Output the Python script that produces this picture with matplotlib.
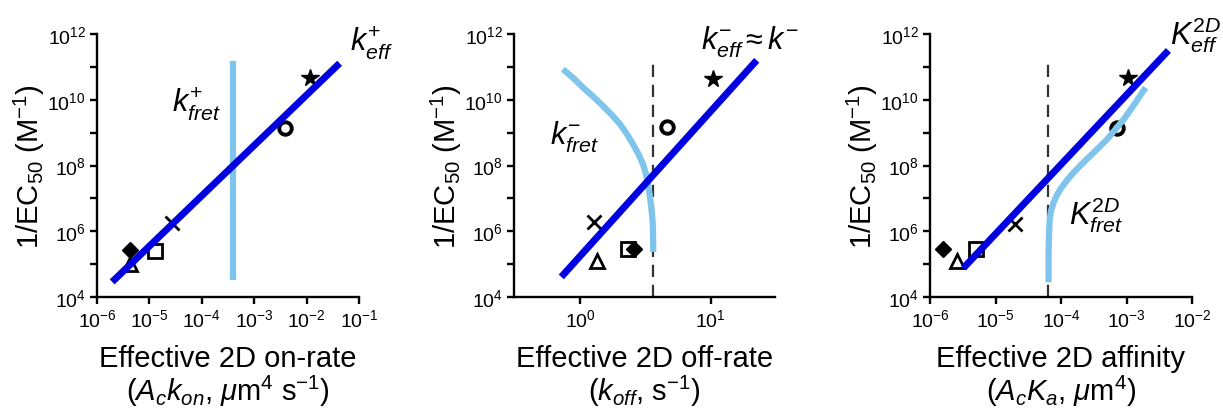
import numpy as np
import matplotlib
matplotlib.use("Agg")
import matplotlib.pyplot as plt
from matplotlib.ticker import FixedLocator, FuncFormatter, NullLocator

plt.rcParams['font.family'] = ['Liberation Sans', 'DejaVu Sans']
plt.rcParams['mathtext.fontset'] = 'custom'
plt.rcParams['mathtext.rm'] = 'Liberation Sans'
plt.rcParams['mathtext.it'] = 'Liberation Sans:italic'
plt.rcParams['mathtext.bf'] = 'Liberation Sans:bold'

# ---------------- data ----------------
# marker order: star, circle, cross, square, diamond, triangle
marker_styles = ['*', 'o', 'x', 's', 'D', '^']

onrate_x = [10**-1.94, 10**-2.42, 10**-4.57, 10**-4.90, 10**-5.37, 10**-5.37]
onrate_y = [10**10.66, 10**9.14, 10**6.25, 10**5.40, 10**5.42, 10**5.00]
onrate_fit_x = [10**-5.71, 10**-1.37]
onrate_fit_y = [10**4.46, 10**11.11]
onrate_fret_x = [10**-3.41, 10**-3.41]
onrate_fret_y = [10**4.52, 10**11.17]

offrate_x = [10.4, 4.6, 1.28, 2.32, 2.58, 1.35]
offrate_y = [10**10.63, 10**9.17, 10**6.28, 10**5.46, 10**5.46, 10**5.09]
offrate_fit_x = [0.72, 22.4]
offrate_fit_y = [10**4.61, 10**11.2]
offrate_fret_x = [0.741, 0.89, 1.05, 1.26, 1.50, 1.75, 2.02, 2.28, 2.54,
                  2.80, 3.03, 3.19, 3.30, 3.40, 3.48, 3.56, 3.61, 3.63]
offrate_fret_y = [10**10.93, 10**10.66, 10**10.38, 10**10.10, 10**9.81,
                  10**9.54, 10**9.26, 10**8.96, 10**8.65, 10**8.35,
                  10**8.04, 10**7.74, 10**7.44, 10**7.14, 10**6.83,
                  10**6.48, 10**6.13, 10**5.37]
offrate_dash_x = 3.6

affinity_x = [10**-2.97, 10**-3.14, 10**-4.70, 10**-5.30, 10**-5.80, 10**-5.59]
affinity_y = [10**10.66, 10**9.14, 10**6.22, 10**5.46, 10**5.46, 10**5.09]
affinity_fit_x = [10**-5.49, 10**-2.36]
affinity_fit_y = [10**4.88, 10**11.5]
affinity_fret_x = [10**-4.19, 10**-4.19, 10**-4.185, 10**-4.173, 10**-4.150,
                   10**-4.112, 10**-4.065, 10**-4.009, 10**-3.91, 10**-3.806,
                   10**-3.68, 10**-3.55, 10**-3.42, 10**-3.294, 10**-3.17,
                   10**-3.04, 10**-2.87, 10**-2.708]
affinity_fret_y = [10**4.45, 10**5.30, 10**5.76, 10**6.37, 10**6.64,
                   10**6.88, 10**7.09, 10**7.28, 10**7.55, 10**7.79,
                   10**8.05, 10**8.30, 10**8.55, 10**8.80, 10**9.10,
                   10**9.41, 10**9.89, 10**10.37]
affinity_dash_x = 10**-4.2

y_ticks = [10.0**e for e in range(4, 13)]
x_ticks_on = [10.0**e for e in range(-6, 0)]
x_ticks_off = [1.0, 10.0]
x_ticks_aff = [10.0**e for e in range(-6, -1)]

xlabels = ["Effective 2D on-rate\n($A_ck_{on}$, $\\mu$m$^4$ s$^{-1}$)",
           "Effective 2D off-rate\n($k_{off}$, s$^{-1}$)",
           "Effective 2D affinity\n($A_cK_a$, $\\mu$m$^4$)"]
ylabel = "1/EC$_{50}$ (M$^{-1}$)"

# ---------------- style ----------------
BLUE = '#0000E0'
LBLUE = '#7FC4EC'

W, H = 1223, 414
fig = plt.figure(figsize=(W / 100, H / 100), dpi=100)

def fx(px):
    return px / W

bottom = (H - 298) / H
height = (298 - 35) / H
axs = [fig.add_axes([fx(97), bottom, fx(262), height]),
       fig.add_axes([fx(514), bottom, fx(261), height]),
       fig.add_axes([fx(930), bottom, fx(262), height])]

def yfmt(v, pos):
    e = int(round(np.log10(v)))
    return ("$10^{%d}$" % e) if e % 2 == 0 else ""

def xfmt(v, pos):
    e = int(round(np.log10(v)))
    return "$10^{%d}$" % e

def style(ax, xt, xlab):
    ax.set_xscale('log')
    ax.set_yscale('log')
    ax.set_ylim(1e4, 1e12)
    for s in ['top', 'right']:
        ax.spines[s].set_visible(False)
    for s in ['left', 'bottom']:
        ax.spines[s].set_linewidth(1.7)
    ax.yaxis.set_major_locator(FixedLocator(y_ticks))
    ax.yaxis.set_major_formatter(FuncFormatter(yfmt))
    ax.xaxis.set_major_locator(FixedLocator(xt))
    ax.xaxis.set_major_formatter(FuncFormatter(xfmt))
    ax.xaxis.set_minor_locator(NullLocator())
    ax.yaxis.set_minor_locator(NullLocator())
    ax.tick_params(which='major', direction='out', length=5, width=1.7,
                   labelsize=14, pad=3)
    ax.set_ylabel(ylabel, fontsize=21, labelpad=0)
    ax.set_xlabel(xlab, fontsize=21, labelpad=10, linespacing=1.05)

def draw_markers(ax, xs, ys):
    for m, x, y in zip(marker_styles, xs, ys):
        if m == '*':
            ax.plot([x], [y], marker='*', ms=13, color='k', ls='none', zorder=2)
        elif m == 'D':
            ax.plot([x], [y], marker='D', ms=8, color='k', ls='none', zorder=2.1)
        elif m == 'x':
            ax.plot([x], [y], marker='x', ms=10, mew=2, color='k', ls='none', zorder=2)
        elif m == 'o':
            ax.plot([x], [y], marker='o', ms=9, mew=2.8, mfc='none', mec='k',
                    ls='none', zorder=2)
        else:
            ax.plot([x], [y], marker=m, ms=9.5, mew=2, mfc='white', mec='k',
                    ls='none', zorder=2)

line_kw = dict(solid_capstyle='butt', solid_joinstyle='round')

# Panel 1
ax = axs[0]
style(ax, x_ticks_on, xlabels[0])
ax.set_xlim(1e-6, 1e-1)
draw_markers(ax, onrate_x, onrate_y)
ax.plot(onrate_fret_x, onrate_fret_y, color=LBLUE, lw=4.5, zorder=3, **line_kw)
ax.plot(onrate_fit_x, onrate_fit_y, color=BLUE, lw=5, zorder=4, **line_kw)
ax.text(10**-0.76, 10**11.78, "$k^{+}_{eff}$", fontsize=22, ha='center', va='center')
ax.text(10**-4.10, 10**9.93, "$k^{+}_{fret}$", fontsize=22, ha='center', va='center')

# Panel 2
ax = axs[1]
style(ax, x_ticks_off, xlabels[1])
ax.set_xlim(10**-0.504, 10**1.49)
draw_markers(ax, offrate_x, offrate_y)
ax.plot([offrate_dash_x, offrate_dash_x], [1e4, 10**11.26], color='#333333', lw=1.6,
        ls=(0, (5.5, 3.5)), zorder=1)
ax.plot(offrate_fret_x, offrate_fret_y, color=LBLUE, lw=4.5, zorder=3, **line_kw)
ax.plot(offrate_fit_x, offrate_fit_y, color=BLUE, lw=5, zorder=4, **line_kw)
ax.text(10**1.30, 10**11.78, "$k^{-}_{eff} \\approx k^{-}$", fontsize=22, ha='center', va='center')
ax.text(10**-0.04, 10**8.89, "$k^{-}_{fret}$", fontsize=22, ha='center', va='center')

# Panel 3
ax = axs[2]
style(ax, x_ticks_aff, xlabels[2])
ax.set_xlim(1e-6, 1e-2)
draw_markers(ax, affinity_x, affinity_y)
ax.plot([affinity_dash_x, affinity_dash_x], [1e4, 10**11.26], color='#333333', lw=1.6,
        ls=(0, (5.5, 3.5)), zorder=1)
ax.plot(affinity_fret_x, affinity_fret_y, color=LBLUE, lw=4.5, zorder=3, **line_kw)
ax.plot(affinity_fit_x, affinity_fit_y, color=BLUE, lw=5, zorder=4, **line_kw)
ax.text(10**-1.94, 10**12.0, "$K^{2D}_{eff}$", fontsize=22, ha='center', va='center')
ax.text(10**-3.47, 10**6.52, "$K^{2D}_{fret}$", fontsize=22, ha='center', va='center')

fig.savefig("out.png", dpi=100)
